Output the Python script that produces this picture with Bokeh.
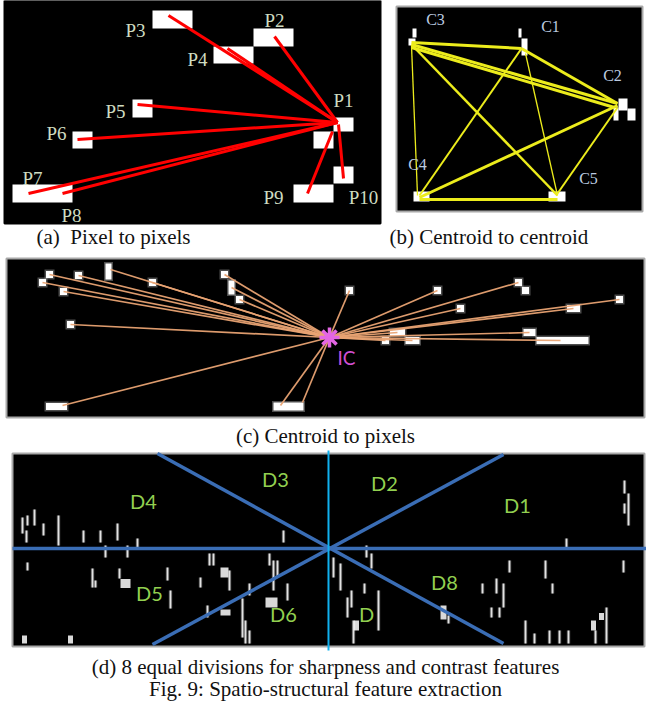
from bokeh.plotting import figure
from bokeh.models import Range1d
from bokeh.embed import file_html
from bokeh.resources import INLINE
from bokeh.core.properties import value

W, H = 646, 705

# ---------------- panel (a): pixel to pixels ----------------
a_frame = (4, 380, 0, 223)
a_box_x0 = [152, 253, 213, 132, 72, 12, 333, 313, 333, 293]
a_box_x1 = [192, 293, 253, 152, 92, 72, 353, 333, 353, 333]
a_box_y0 = [10, 28, 46, 99, 131, 184, 117, 131, 166, 184]
a_box_y1 = [28, 46, 63, 117, 148, 202, 131, 148, 183, 202]
a_hub_x = [337, 337, 337, 337, 337, 337, 337, 332, 338]
a_hub_y = [122, 122, 122, 122, 122, 122, 122, 131, 124]
a_end_x = [168, 274, 227, 137, 77, 28, 62, 307, 343]
a_end_y = [15, 36, 48, 104, 139, 193, 193, 193, 178]
a_labels = ["P3", "P2", "P4", "P1", "P5", "P6", "P7", "P8", "P9", "P10"]
a_label_x = [135, 274, 197, 343, 115, 56, 32, 71, 273, 363]
a_label_y = [30, 20, 59, 100, 111, 133, 178, 215, 197, 197]

# ---------------- panel (b): centroid to centroid ----------------
b_frame = (396, 642, 6, 211)
b_blob_x0 = [412, 408, 518, 521, 618, 613, 627, 413, 548]
b_blob_x1 = [416, 415, 521, 527, 627, 618, 635, 429, 565]
b_blob_y0 = [28, 38, 28, 38, 98, 107, 108, 191, 191]
b_blob_y1 = [37, 45, 37, 55, 110, 120, 120, 201, 201]
b_x0 = [411, 411, 411, 411, 411, 525, 521, 521, 617, 617, 419]
b_y0 = [42, 44, 47, 44, 45, 53, 48, 48, 105, 107, 199]
b_x1 = [521, 617, 614, 557, 417, 557, 419, 617, 419, 557, 557]
b_y1 = [48, 103, 107, 195, 195, 195, 195, 103, 197, 193, 199]
b_w = [3, 3, 3, 2.5, 1.3, 1.3, 2, 3, 3, 2, 3]
b_labels = ["C3", "C1", "C2", "C4", "C5"]
b_label_x = [435, 550, 612, 417, 588]
b_label_y = [19, 26, 75, 164, 178]

# ---------------- panel (c): centroid to pixels ----------------
c_frame = (6, 644, 258, 417)
c_hub = (329, 337)
c_box_x = [49, 42, 78, 108, 152, 63, 70, 56, 224, 231, 239, 288,
           349, 437, 518, 525, 460, 619, 573, 397, 529, 385, 412, 562]
c_box_y = [274, 282, 275, 271, 282, 291, 324, 406, 274, 287, 299, 406,
           290, 290, 282, 290, 308, 299, 308, 332, 332, 340, 340, 340]
c_box_w = [7, 7, 7, 6, 7, 7, 7, 21, 7, 6, 7, 30,
           7, 7, 7, 7, 7, 7, 13, 15, 12, 7, 14, 52]
c_box_h = [7, 7, 7, 16, 7, 7, 7, 7, 7, 14, 7, 8,
           7, 7, 7, 7, 7, 7, 7, 7, 7, 7, 7, 7]
c_end_x = [49, 42, 78, 110, 152, 63, 70, 62, 224, 231, 239, 280, 302,
           349, 437, 518, 460, 619, 573, 397, 529, 385, 412, 560]
c_end_y = [274, 282, 275, 269, 282, 291, 324, 405, 274, 287, 299, 405, 402,
           290, 290, 282, 308, 299, 308, 332, 332, 340, 340, 340]

# ---------------- panel (d): eight divisions ----------------
d_frame = (12, 644, 453, 646)
d_center = (328, 548)
d_diag_x = [157, 152]
d_diag_y = [453, 644]
d_diag_x2 = [503, 503]
d_diag_y2 = [643, 454]
d_labels = ["D1", "D2", "D3", "D4", "D5", "D6", "D", "D8"]
d_label_x = [517, 384, 275, 143, 149, 283, 366, 444]
d_label_y = [504, 482, 478, 500, 592, 613, 613, 581]
# short bright streaks (x, top, bottom)
d_st_x = [22, 27, 34, 43, 58, 83, 100, 117, 137, 26, 283, 105, 127,
          27, 92, 95, 119, 167, 170, 200, 209, 213, 229, 249, 269, 273, 277,
          287, 207, 242, 245, 249,
          624, 624, 628, 566, 366, 371, 333, 340, 351, 347, 364, 378, 353,
          509, 545, 552, 496, 503, 482, 491, 499, 448, 623, 606, 525, 534,
          549, 559, 568, 595]
d_st_y0 = [517, 515, 509, 523, 515, 530, 530, 523, 538, 530, 530, 545, 545,
           562, 568, 580, 568, 567, 590, 577, 553, 553, 570, 583, 553, 560, 560,
           583, 605, 598, 620, 630,
           480, 503, 493, 538, 545, 553, 557, 563, 590, 597, 583, 590, 620,
           560, 560, 583, 578, 583, 583, 607, 607, 615, 560, 607, 620, 633,
           630, 630, 630, 630]
d_st_y1 = [533, 525, 525, 535, 545, 542, 542, 540, 547, 542, 542, 557, 557,
           570, 587, 587, 578, 580, 608, 587, 565, 565, 590, 595, 565, 590, 577,
           600, 617, 637, 643, 643,
           493, 513, 525, 547, 557, 568, 577, 590, 607, 617, 593, 630, 643,
           572, 578, 593, 593, 607, 593, 617, 617, 623, 572, 643, 643, 643,
           643, 643, 643, 643]
# wider bright blobs (centre x, centre y, width, height)
d_bl_x = [125, 224, 271, 225, 24, 70, 356, 443, 601, 593]
d_bl_y = [583, 572, 602, 612, 639, 639, 625, 612, 616, 625]
d_bl_w = [10, 8, 12, 10, 5, 5, 5, 6, 5, 5]
d_bl_h = [9, 10, 10, 6, 8, 8, 10, 14, 7, 10]

captions = ["(a)\u00a0 Pixel to pixels", "(b) Centroid to centroid", "(c) Centroid to pixels",
            "(d) 8 equal divisions for sharpness and contrast features",
            "Fig. 9: Spatio-structural feature extraction"]
cap_x = [36, 389, 325, 325, 325]
cap_y = [236, 236, 435, 666, 688]
cap_align = ["left", "left", "center", "center", "center"]

p = figure(width=W, height=H, x_range=Range1d(0, W), y_range=Range1d(H, 0),
           output_backend="svg", toolbar_location=None, min_border=0,
           x_axis_location=None, y_axis_location=None)
p.grid.visible = False
p.outline_line_color = None
p.background_fill_color = "white"
p.border_fill_color = "white"

serif = value("Liberation Serif")
sans = value("Lato")

# panel backgrounds
frames = [a_frame, b_frame, c_frame, d_frame]
p.quad(left=[f[0] for f in frames], right=[f[1] for f in frames],
       top=[f[2] for f in frames], bottom=[f[3] for f in frames],
       fill_color="black", line_color=["black", "#a8a8a8", "#a8a8a8", "#a8a8a8"], line_width=2)

# (a)
p.quad(left=a_box_x0, right=a_box_x1, top=a_box_y0, bottom=a_box_y1,
       fill_color="white", line_color=None)
p.segment(x0=a_hub_x, y0=a_hub_y, x1=a_end_x, y1=a_end_y,
          line_color="#ff0000", line_width=3)
p.text(x=a_label_x, y=a_label_y, text=a_labels, text_font=serif, text_font_size="19px",
       text_color="#cfdcc0", text_align="center", text_baseline="middle")

# (b)
p.quad(left=b_blob_x0, right=b_blob_x1, top=b_blob_y0, bottom=b_blob_y1,
       fill_color="white", line_color=None)
p.segment(x0=b_x0, y0=b_y0, x1=b_x1, y1=b_y1, line_color="#ecec1c", line_width=b_w)
p.text(x=b_label_x, y=b_label_y, text=b_labels, text_font=serif, text_font_size="16px",
       text_color="#bccbe0", text_align="center", text_baseline="middle")

# (c)
p.rect(x=c_box_x, y=c_box_y, width=[w + 3 for w in c_box_w], height=[h + 3 for h in c_box_h],
       fill_color="#9a9a9a", fill_alpha=0.5, line_color=None)
p.rect(x=c_box_x, y=c_box_y, width=c_box_w, height=c_box_h,
       fill_color="white", line_color=None)
p.segment(x0=[c_hub[0]] * len(c_end_x), y0=[c_hub[1]] * len(c_end_y), x1=c_end_x, y1=c_end_y,
          line_color="#e9a373", line_width=1.7, line_alpha=0.95)
p.scatter(x=[c_hub[0]], y=[c_hub[1]], marker="asterisk", size=20,
          line_color="#e466e4", line_width=3.5)
p.text(x=[c_hub[0] + 17], y=[c_hub[1] + 20], text=["IC"], text_font=sans, text_font_size="19px",
       text_color="#d24fd2", text_align="center", text_baseline="middle")

# (d)
p.segment(x0=d_st_x, y0=d_st_y0, x1=d_st_x, y1=d_st_y1,
          line_color="#bbbbbb", line_width=3.5, line_alpha=0.35)
p.segment(x0=d_st_x, y0=d_st_y0, x1=d_st_x, y1=d_st_y1,
          line_color="white", line_width=1.8, line_alpha=0.85)
p.rect(x=d_bl_x, y=d_bl_y, width=d_bl_w, height=d_bl_h,
       fill_color="white", fill_alpha=0.85, line_color=None)
p.segment(x0=[d_frame[0]], y0=[d_center[1]], x1=[W], y1=[d_center[1]],
          line_color="#3a6db5", line_width=3.5)
p.segment(x0=d_diag_x, y0=d_diag_y, x1=d_diag_x2, y1=d_diag_y2,
          line_color="#3a6db5", line_width=3.5)
p.segment(x0=[d_center[0]], y0=[450], x1=[d_center[0]], y1=[650],
          line_color="#10b0ef", line_width=2)
p.text(x=d_label_x, y=d_label_y, text=d_labels, text_font=sans, text_font_size="20px",
       text_color="#92d050", text_align="center", text_baseline="middle")

# captions
p.text(x=cap_x, y=cap_y, text=captions, text_font=serif, text_font_size="21px",
       text_color="#111111", text_align=cap_align, text_baseline="middle")

open("out.html", "w").write(file_html(p, INLINE))
